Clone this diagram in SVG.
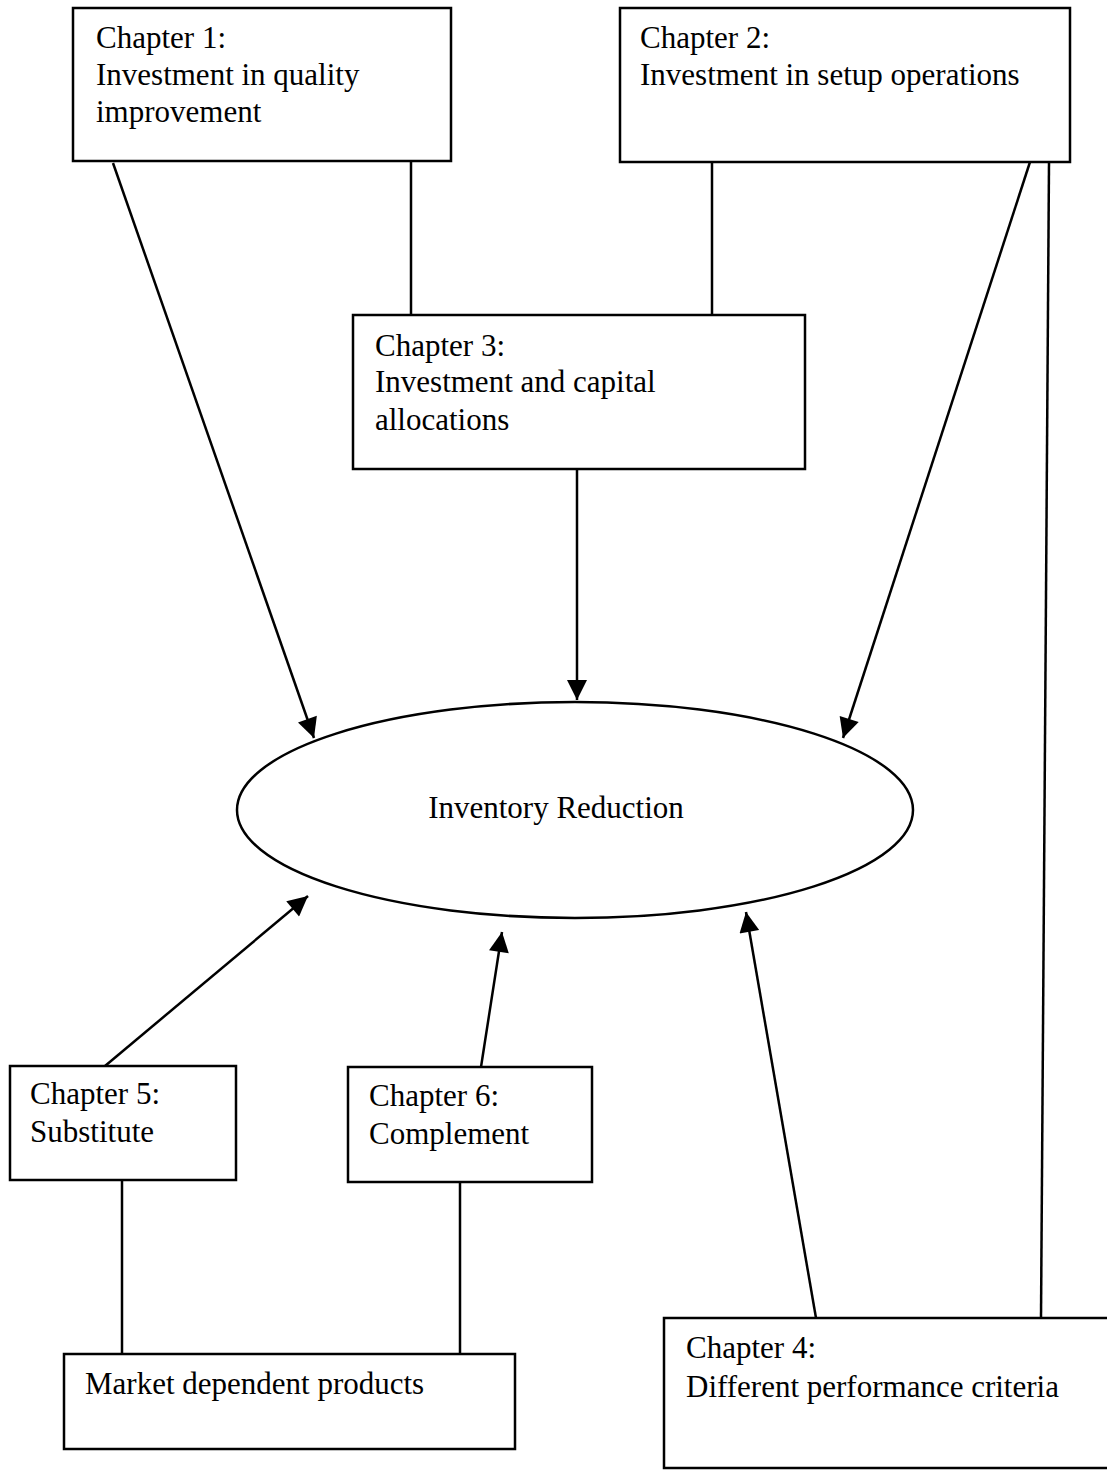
<svg xmlns="http://www.w3.org/2000/svg" width="1107" height="1470" viewBox="0 0 1107 1470">
<style>
.box{fill:#fff;stroke:#000;stroke-width:2.5}
.ln{stroke:#000;stroke-width:2.5;fill:none}
.arr{stroke:#000;stroke-width:2.5;fill:none;marker-end:url(#ah)}
text{font-family:"Liberation Serif","Times New Roman",serif;font-size:31px;fill:#000}
</style>
<defs>
<marker id="ah" viewBox="0 0 10 10" refX="10" refY="5" markerWidth="8.5" markerHeight="8" markerUnits="strokeWidth" orient="auto">
<path d="M0,0 L10,5 L0,10 z" fill="#000"/>
</marker>
</defs>
<rect width="1107" height="1470" fill="#fff"/>
<g id="connectors">
<line class="arr" x1="113" y1="163" x2="314" y2="738"/>
<line class="ln" x1="411" y1="161" x2="411" y2="315"/>
<line class="ln" x1="712" y1="162" x2="712" y2="315"/>
<line class="arr" x1="577" y1="469" x2="577" y2="700"/>
<line class="arr" x1="1030" y1="162" x2="843" y2="738"/>
<line class="ln" x1="1049" y1="162" x2="1041" y2="1318"/>
<line class="arr" x1="105" y1="1066" x2="308" y2="896"/>
<line class="arr" x1="481" y1="1067" x2="502" y2="932"/>
<line class="arr" x1="816" y1="1318" x2="746" y2="912"/>
<line class="ln" x1="122" y1="1180" x2="122" y2="1354"/>
<line class="ln" x1="460" y1="1182" x2="460" y2="1354"/>
</g>
<g id="ch1">
<rect class="box" x="73" y="8" width="378" height="153"/>
<text x="96" y="48">Chapter 1:</text>
<text x="96" y="85">Investment in quality</text>
<text x="96" y="122">improvement</text>
</g>
<g id="ch2">
<rect class="box" x="620" y="8" width="450" height="154"/>
<text x="640" y="48">Chapter 2:</text>
<text x="640" y="85">Investment in setup operations</text>
</g>
<g id="ch3">
<rect class="box" x="353" y="315" width="452" height="154"/>
<text x="375" y="356">Chapter 3:</text>
<text x="375" y="392">Investment and capital</text>
<text x="375" y="430">allocations</text>
</g>
<g id="inventory">
<ellipse class="box" cx="575" cy="810" rx="338" ry="108"/>
<text x="556" y="818" text-anchor="middle">Inventory Reduction</text>
</g>
<g id="ch5">
<rect class="box" x="10" y="1066" width="226" height="114"/>
<text x="30" y="1104">Chapter 5:</text>
<text x="30" y="1142">Substitute</text>
</g>
<g id="ch6">
<rect class="box" x="348" y="1067" width="244" height="115"/>
<text x="369" y="1106">Chapter 6:</text>
<text x="369" y="1144">Complement</text>
</g>
<g id="market">
<rect class="box" x="64" y="1354" width="451" height="95"/>
<text x="85" y="1394">Market dependent products</text>
</g>
<g id="ch4">
<rect class="box" x="664" y="1318" width="460" height="150"/>
<text x="686" y="1358">Chapter 4:</text>
<text x="686" y="1397">Different performance criteria</text>
</g>
</svg>
